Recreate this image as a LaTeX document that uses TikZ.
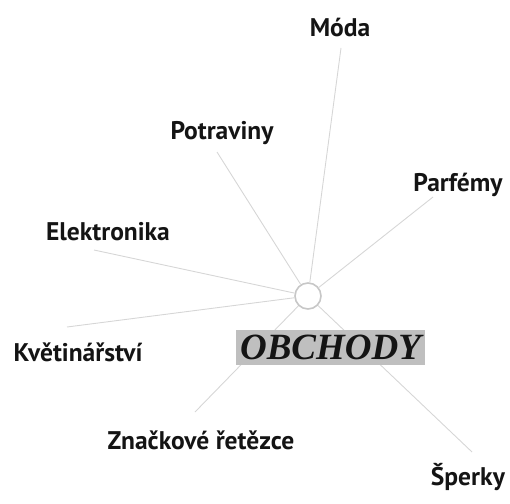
\documentclass[tikz,border=0pt]{standalone}
\usepackage{fontspec}
\setmainfont{Liberation Serif}
\newfontfamily\handfont{PT Sans}
\begin{document}
\begin{tikzpicture}[x=1pt,y=-1pt,
  spoke/.style={draw=black!16, line width=0.9pt},
  lbl/.style={font=\handfont\bfseries\fontsize{25.5}{29}\selectfont, text=black!92, inner sep=0pt},
  hub/.style={circle, draw=black!22, line width=1.6pt, minimum size=26pt, inner sep=0pt, fill=white},
  title/.style={fill=black!25, font=\fontsize{37}{40}\selectfont\bfseries\itshape, inner sep=0pt, minimum width=189pt, minimum height=35pt, text=black!92}]
\useasboundingbox (0,0) rectangle (510,503);
\node[hub] (c) at (308,296) {};
\coordinate (eMo) at (341,48);
\coordinate (ePo) at (217,152);
\coordinate (ePa) at (433,197);
\coordinate (eEl) at (94,250);
\coordinate (eKv) at (67,327);
\coordinate (eZn) at (195,412);
\coordinate (eSp) at (472,452);
\foreach \e in {eMo,ePo,ePa,eEl,eKv,eZn,eSp} \draw[spoke] (c) -- (\e);
\node[title] (t) at (330.5,347.5) {OBCHODY};
\node[lbl] (mo) at (340,27) {Móda};
\node[lbl] (po) at (222,133) {Potraviny};
\node[lbl] (pa) at (458,185) {Parfémy};
\node[lbl] (el) at (108,232) {Elektronika};
\node[lbl] (kv) at (78,352) {Květinářství};
\node[lbl] (zn) at (201,440) {Značkové řetězce};
\node[lbl] (sp) at (468,477) {Šperky};
\end{tikzpicture}
\end{document}
